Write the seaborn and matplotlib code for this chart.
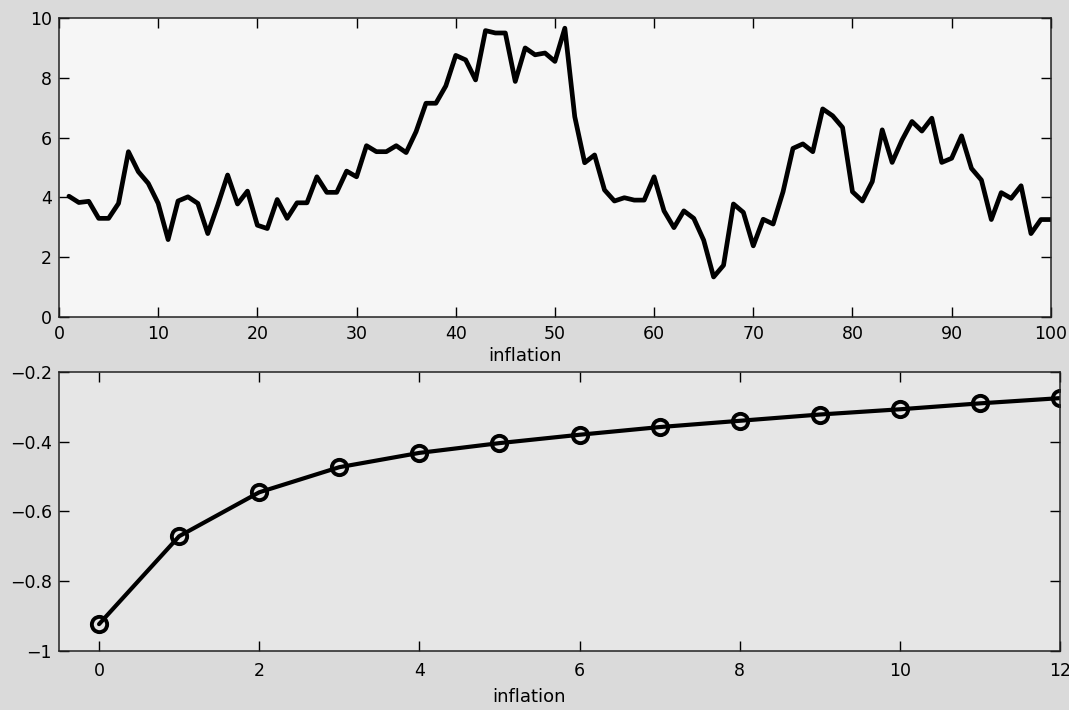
import numpy as np
import pandas as pd
import matplotlib
matplotlib.use("Agg")
import matplotlib.pyplot as plt
import seaborn as sns

# ---- data ----
top_t = list(range(1, 101))
top_vals = [4.04, 3.83, 3.87, 3.30, 3.30, 3.80, 5.53, 4.86, 4.47, 3.80,
            2.59, 3.88, 4.02, 3.80, 2.79, 3.74, 4.75, 3.78, 4.21, 3.07,
            2.96, 3.93, 3.30, 3.82, 3.82, 4.69, 4.17, 4.17, 4.88, 4.69,
            5.73, 5.53, 5.53, 5.73, 5.50, 6.20, 7.15, 7.15, 7.73, 8.75,
            8.60, 7.93, 9.58, 9.50, 9.50, 7.88, 9.00, 8.77, 8.83, 8.55,
            9.66, 6.70, 5.16, 5.42, 4.25, 3.88, 3.99, 3.91, 3.91, 4.69,
            3.55, 2.99, 3.55, 3.30, 2.57, 1.34, 1.73, 3.78, 3.50, 2.38,
            3.27, 3.11, 4.19, 5.64, 5.79, 5.53, 6.96, 6.73, 6.34, 4.19,
            3.88, 4.53, 6.26, 5.17, 5.92, 6.54, 6.22, 6.65, 5.17, 5.31,
            6.06, 4.97, 4.58, 3.26, 4.16, 3.97, 4.39, 2.79, 3.26, 3.26]
top_xticks = [0, 10, 20, 30, 40, 50, 60, 70, 80, 90, 100]
top_yticks = [0, 2, 4, 6, 8, 10]

bot_h = list(range(0, 13))
bot_vals = [-0.923, -0.671, -0.545, -0.473, -0.432, -0.404, -0.380,
            -0.358, -0.340, -0.322, -0.307, -0.290, -0.275]
bot_xticks = [0, 2, 4, 6, 8, 10, 12]
bot_yticks = [-1, -0.8, -0.6, -0.4, -0.2]
bot_yticklabels = ["\u22121", "\u22120.8", "\u22120.6", "\u22120.4", "\u22120.2"]
xlabel = "inflation"

sns.set_theme(style="ticks")
plt.rcParams["font.family"] = ["DejaVu Sans"]
plt.rcParams["xtick.direction"] = "in"
plt.rcParams["ytick.direction"] = "in"

fig = plt.figure(figsize=(10.69, 7.10), dpi=100, facecolor="#dadada")
ax1 = fig.add_axes([0.0552, 0.5535, 0.9278, 0.4211])
ax2 = fig.add_axes([0.0552, 0.0831, 0.9364, 0.3930])
ax1.set_facecolor("#f6f6f6")
ax2.set_facecolor("#e6e6e6")

df1 = pd.DataFrame({"t": top_t, "v": top_vals})
sns.lineplot(data=df1, x="t", y="v", ax=ax1, color="black", linewidth=3.4)
ax1.set_xlim(0, 100)
ax1.set_ylim(0, 10)
ax1.set_xticks(top_xticks)
ax1.set_yticks(top_yticks)
ax1.set_ylabel("")
ax1.set_xlabel(xlabel, fontsize=13, color="black")
ax1.xaxis.set_label_coords(0.47, -0.10)

df2 = pd.DataFrame({"h": bot_h, "v": bot_vals})
sns.lineplot(data=df2, x="h", y="v", ax=ax2, color="black", linewidth=3.0,
             marker="o", markersize=11, markerfacecolor="none",
             markeredgecolor="black", markeredgewidth=2.8)
ax2.set_xlim(-0.5, 12)
ax2.set_ylim(-1, -0.2)
ax2.set_xticks(bot_xticks)
ax2.set_yticks(bot_yticks)
ax2.set_yticklabels(bot_yticklabels)
ax2.set_ylabel("")
ax2.set_xlabel(xlabel, fontsize=13, color="black")
ax2.xaxis.set_label_coords(0.47, -0.132)

for ax, xpad in ((ax1, 6), (ax2, 8)):
    ax.tick_params(axis="both", which="both", direction="in", top=True,
                   right=True, length=7, width=1, labelsize=12.5,
                   colors="black", pad=5)
    ax.tick_params(axis="x", pad=xpad)
    for s in ax.spines.values():
        s.set_visible(True)
        s.set_color("#222222")
        s.set_linewidth(1.1)
    for lab in ax.get_xticklabels() + ax.get_yticklabels():
        lab.set_color("black")

fig.savefig("out.png", dpi=100, facecolor=fig.get_facecolor())
